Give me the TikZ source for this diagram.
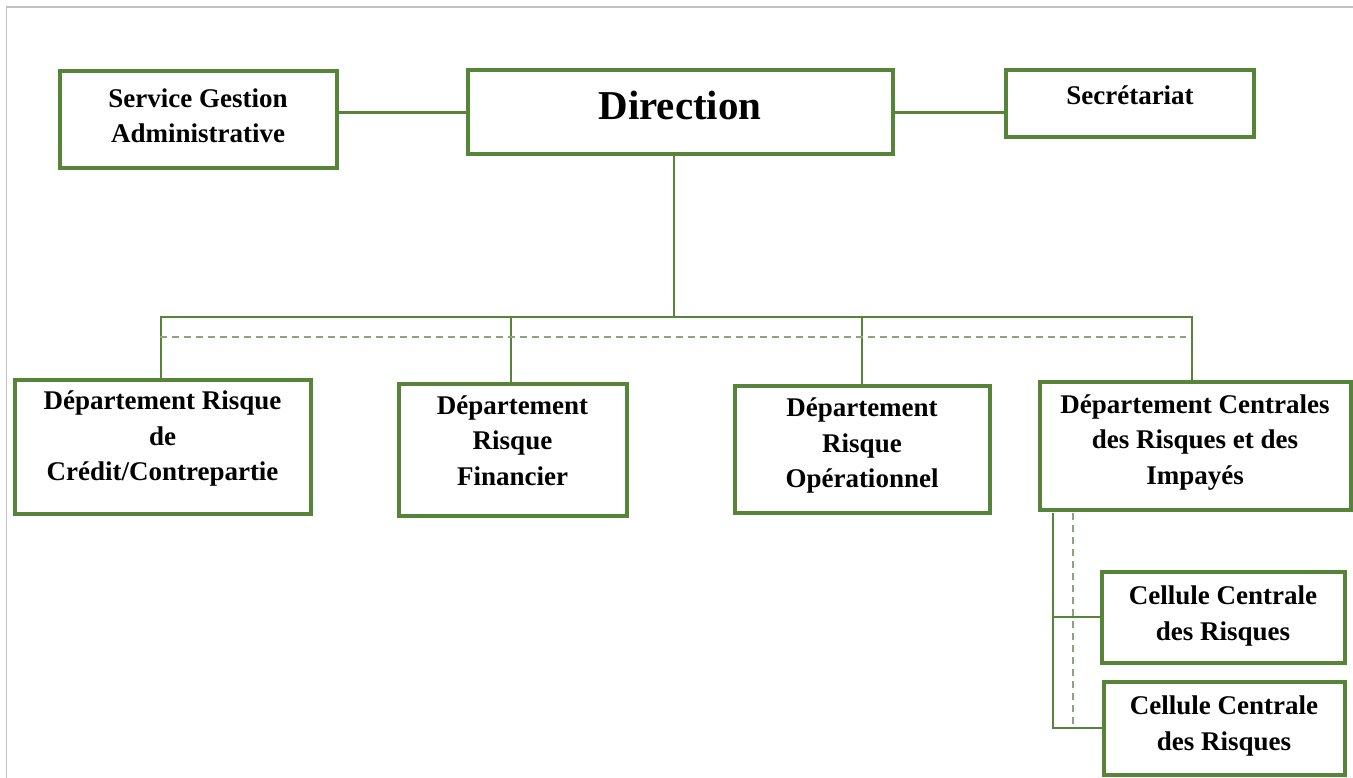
\documentclass[tikz,border=0pt]{standalone}
\usepackage{fontspec}
\setmainfont{Liberation Serif}
\usetikzlibrary{calc}
\definecolor{boxgreen}{RGB}{86,132,56}
\definecolor{dashgreen}{RGB}{140,165,125}
\definecolor{framegray}{RGB}{192,192,192}
\begin{document}
\begin{tikzpicture}[x=1pt,y=-1pt,
  orgbox/.style={draw=boxgreen, line width=4pt, fill=white, rectangle, inner sep=0pt},
  lbl/.style={align=center, font=\bfseries\fontsize{27}{35.5}\selectfont, inner sep=0pt},
  biglbl/.style={align=center, font=\bfseries\fontsize{41}{48}\selectfont, inner sep=0pt},
  link/.style={draw=boxgreen, line width=2.8pt},
  dashline/.style={draw=dashgreen, line width=2pt, dash pattern=on 7pt off 5pt}]
\useasboundingbox (0,0) rectangle (1353,778);

% page frame (left and top edges)
\draw[framegray, line width=1.5pt] (6.5,778) -- (6.5,7) -- (1353,7);

% top row
\node[orgbox, minimum width=277, minimum height=97] (sga) at (198,120) {};
\node[orgbox, minimum width=425, minimum height=84] (dir) at (680,112.5) {};
\node[orgbox, minimum width=248, minimum height=67] (sec) at (1130,104) {};

% departments
\node[orgbox, minimum width=296, minimum height=134] (d1) at (162.5,446.5) {};
\node[orgbox, minimum width=228, minimum height=132] (d2) at (512.5,449.5) {};
\node[orgbox, minimum width=255, minimum height=127] (d3) at (862,449) {};
\node[orgbox, minimum width=311, minimum height=128] (d4) at (1195,445.5) {};

% cells
\node[orgbox, minimum width=243, minimum height=91] (c1) at (1223,617) {};
\node[orgbox, minimum width=241, minimum height=93] (c2) at (1224,728) {};

% labels
\node[lbl, yshift=4] (sgaT) at (sga) {Service Gestion\\Administrative};
\node[biglbl, yshift=7] (dirT) at (dir) {Direction};
\node[lbl, yshift=9] (secT) at (sec) {Secrétariat};
\node[lbl, yshift=8] (d1T) at (d1) {Département Risque\\de\\Crédit/Contrepartie};
\node[lbl, yshift=9] (d2T) at (d2) {Département\\Risque\\Financier};
\node[lbl, yshift=3.5] (d3T) at (d3) {Département\\Risque\\Opérationnel};
\node[lbl, yshift=3] (d4T) at (d4) {Département Centrales\\des Risques et des\\Impayés};
\node[lbl, yshift=1] (c1T) at (c1) {Cellule Centrale\\des Risques};
\node[lbl, yshift=2] (c2T) at (c2) {Cellule Centrale\\des Risques};

% bus and trunk coordinates
\coordinate (bus) at (161,317);
\coordinate (dl) at (160,337);
\coordinate (dr) at (1186,337);
\coordinate (trunk) at (1053,513);
\coordinate (dtop) at (1073,513);
\coordinate (dbot) at (1073,726);

% connectors
\draw[link] (dir.west) -- (sga.east |- dir.west);
\draw[link] (dir.east) -- (sec.west |- dir.east);
\draw[link] ([xshift=-6pt]dir.south) -- ([xshift=-6pt]dir.south |- bus);
\draw[link] ([xshift=-1.5pt]d1.north) |- ([xshift=-3pt]d4.north |- bus) -- ([xshift=-3pt]d4.north);
\draw[link] ([xshift=-1.5pt]d2.north) -- ([xshift=-1.5pt]d2.north |- bus);
\draw[link] (d3.north) -- (d3.north |- bus);
\draw[dashline] (dl) -- (dr);
\draw[link] (trunk) |- (c2.west);
\draw[link] (c1.west) -- (c1.west -| trunk);
\draw[dashline] (dtop) -- (dbot);
\end{tikzpicture}
\end{document}
